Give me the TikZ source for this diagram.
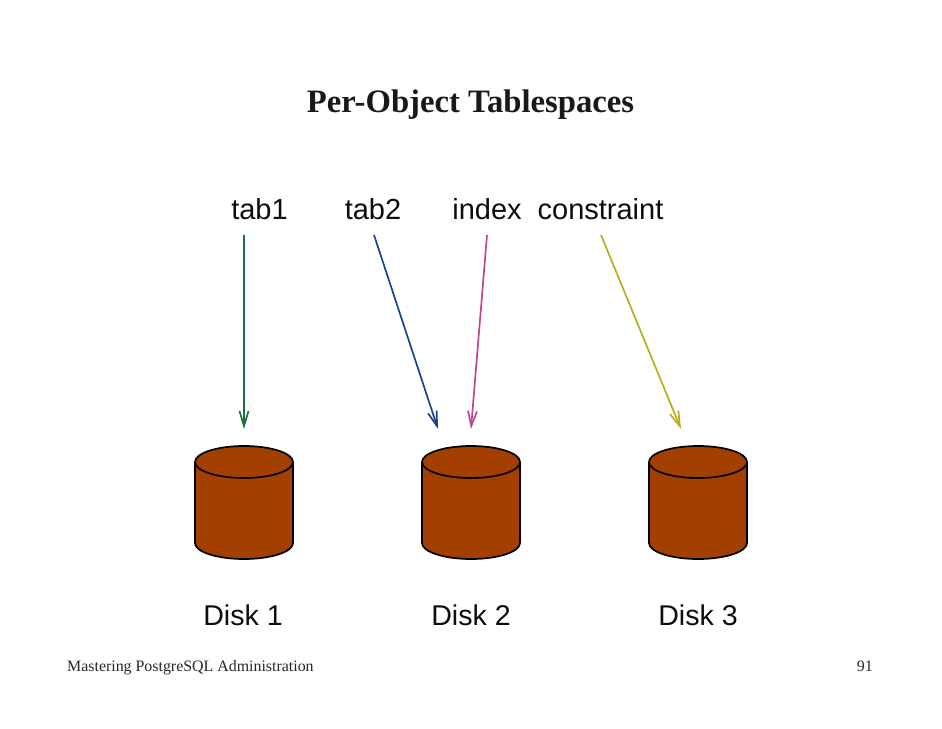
\documentclass[tikz,border=0pt]{standalone}
\usepackage{fontspec}
\setmainfont{Liberation Serif}
\newfontfamily\labelfont{Liberation Sans}
\usetikzlibrary{arrows.meta}
\definecolor{diskfill}{HTML}{A34000}
\definecolor{arrgreen}{HTML}{1A7040}
\definecolor{arrblue}{HTML}{1A4488}
\definecolor{arrpink}{HTML}{C0468F}
\definecolor{arryellow}{HTML}{B8AC20}
\tikzset{
  lbl/.style={font=\labelfont\fontsize{29}{30}\selectfont,inner sep=0pt,text=black!95,anchor=base},
  dlbl/.style={font=\labelfont\fontsize{28.6}{30}\selectfont,inner sep=0pt,text=black!95,anchor=base},
  conn/.style={line width=1.7pt,-{Straight Barb[length=15pt,width=9pt,line width=1.7pt]}},
  diskbody/.style={fill=diskfill,draw=black,line width=1.7pt},
  titletxt/.style={font=\bfseries\fontsize{32.7}{34}\selectfont,inner sep=0pt,text=black!90,anchor=base},
  foottxt/.style={font=\fontsize{15.9}{18}\selectfont,inner sep=0pt,text=black!85,anchor=base}
}
\newcommand{\diskshape}[1]{%
  \fill[diskfill] (#1-49,462) -- (#1-49,543) arc[start angle=180,end angle=0,x radius=49,y radius=16] -- (#1+49,462) -- cycle;
  \draw[black,line width=1.7pt] (#1-49,462) -- (#1-49,543) arc[start angle=180,end angle=0,x radius=49,y radius=16] -- (#1+49,462);
  \draw[diskbody] (#1,462) ellipse[x radius=49,y radius=16];
}
\begin{document}
\begin{tikzpicture}[x=1pt,y=-1pt]
\useasboundingbox (0,0) rectangle (942,728);
\node[titletxt] (title) at (470.5,112) {Per-Object Tablespaces};
\node[lbl] (tab1) at (259.5,219) {tab1};
\node[lbl] (tab2) at (373,219) {tab2};
\node[lbl] (index) at (487,219) {index};
\node[lbl] (constraint) at (600.5,219) {constraint};
\diskshape{244}
\diskshape{471}
\diskshape{698}
\node[dlbl] (disk1) at (243,625) {Disk 1};
\node[dlbl] (disk2) at (471,625) {Disk 2};
\node[dlbl] (disk3) at (698,625) {Disk 3};
\node[foottxt,anchor=base west] (foot) at (67,671) {Mastering PostgreSQL Administration};
\node[foottxt,anchor=base east] (page) at (873,671) {91};
\coordinate (s1) at (244,235);
\coordinate (s2) at (374,235);
\coordinate (s3) at (487,235);
\coordinate (s4) at (601,235);
\coordinate (e1) at (244,429);
\coordinate (e2) at (438,429);
\coordinate (e3) at (471,429);
\coordinate (e4) at (681,429);
\draw[conn,arrgreen] (s1) -- (e1);
\draw[conn,arrblue] (s2) -- (e2);
\draw[conn,arrpink] (s3) -- (e3);
\draw[conn,arryellow] (s4) -- (e4);
\end{tikzpicture}
\end{document}
